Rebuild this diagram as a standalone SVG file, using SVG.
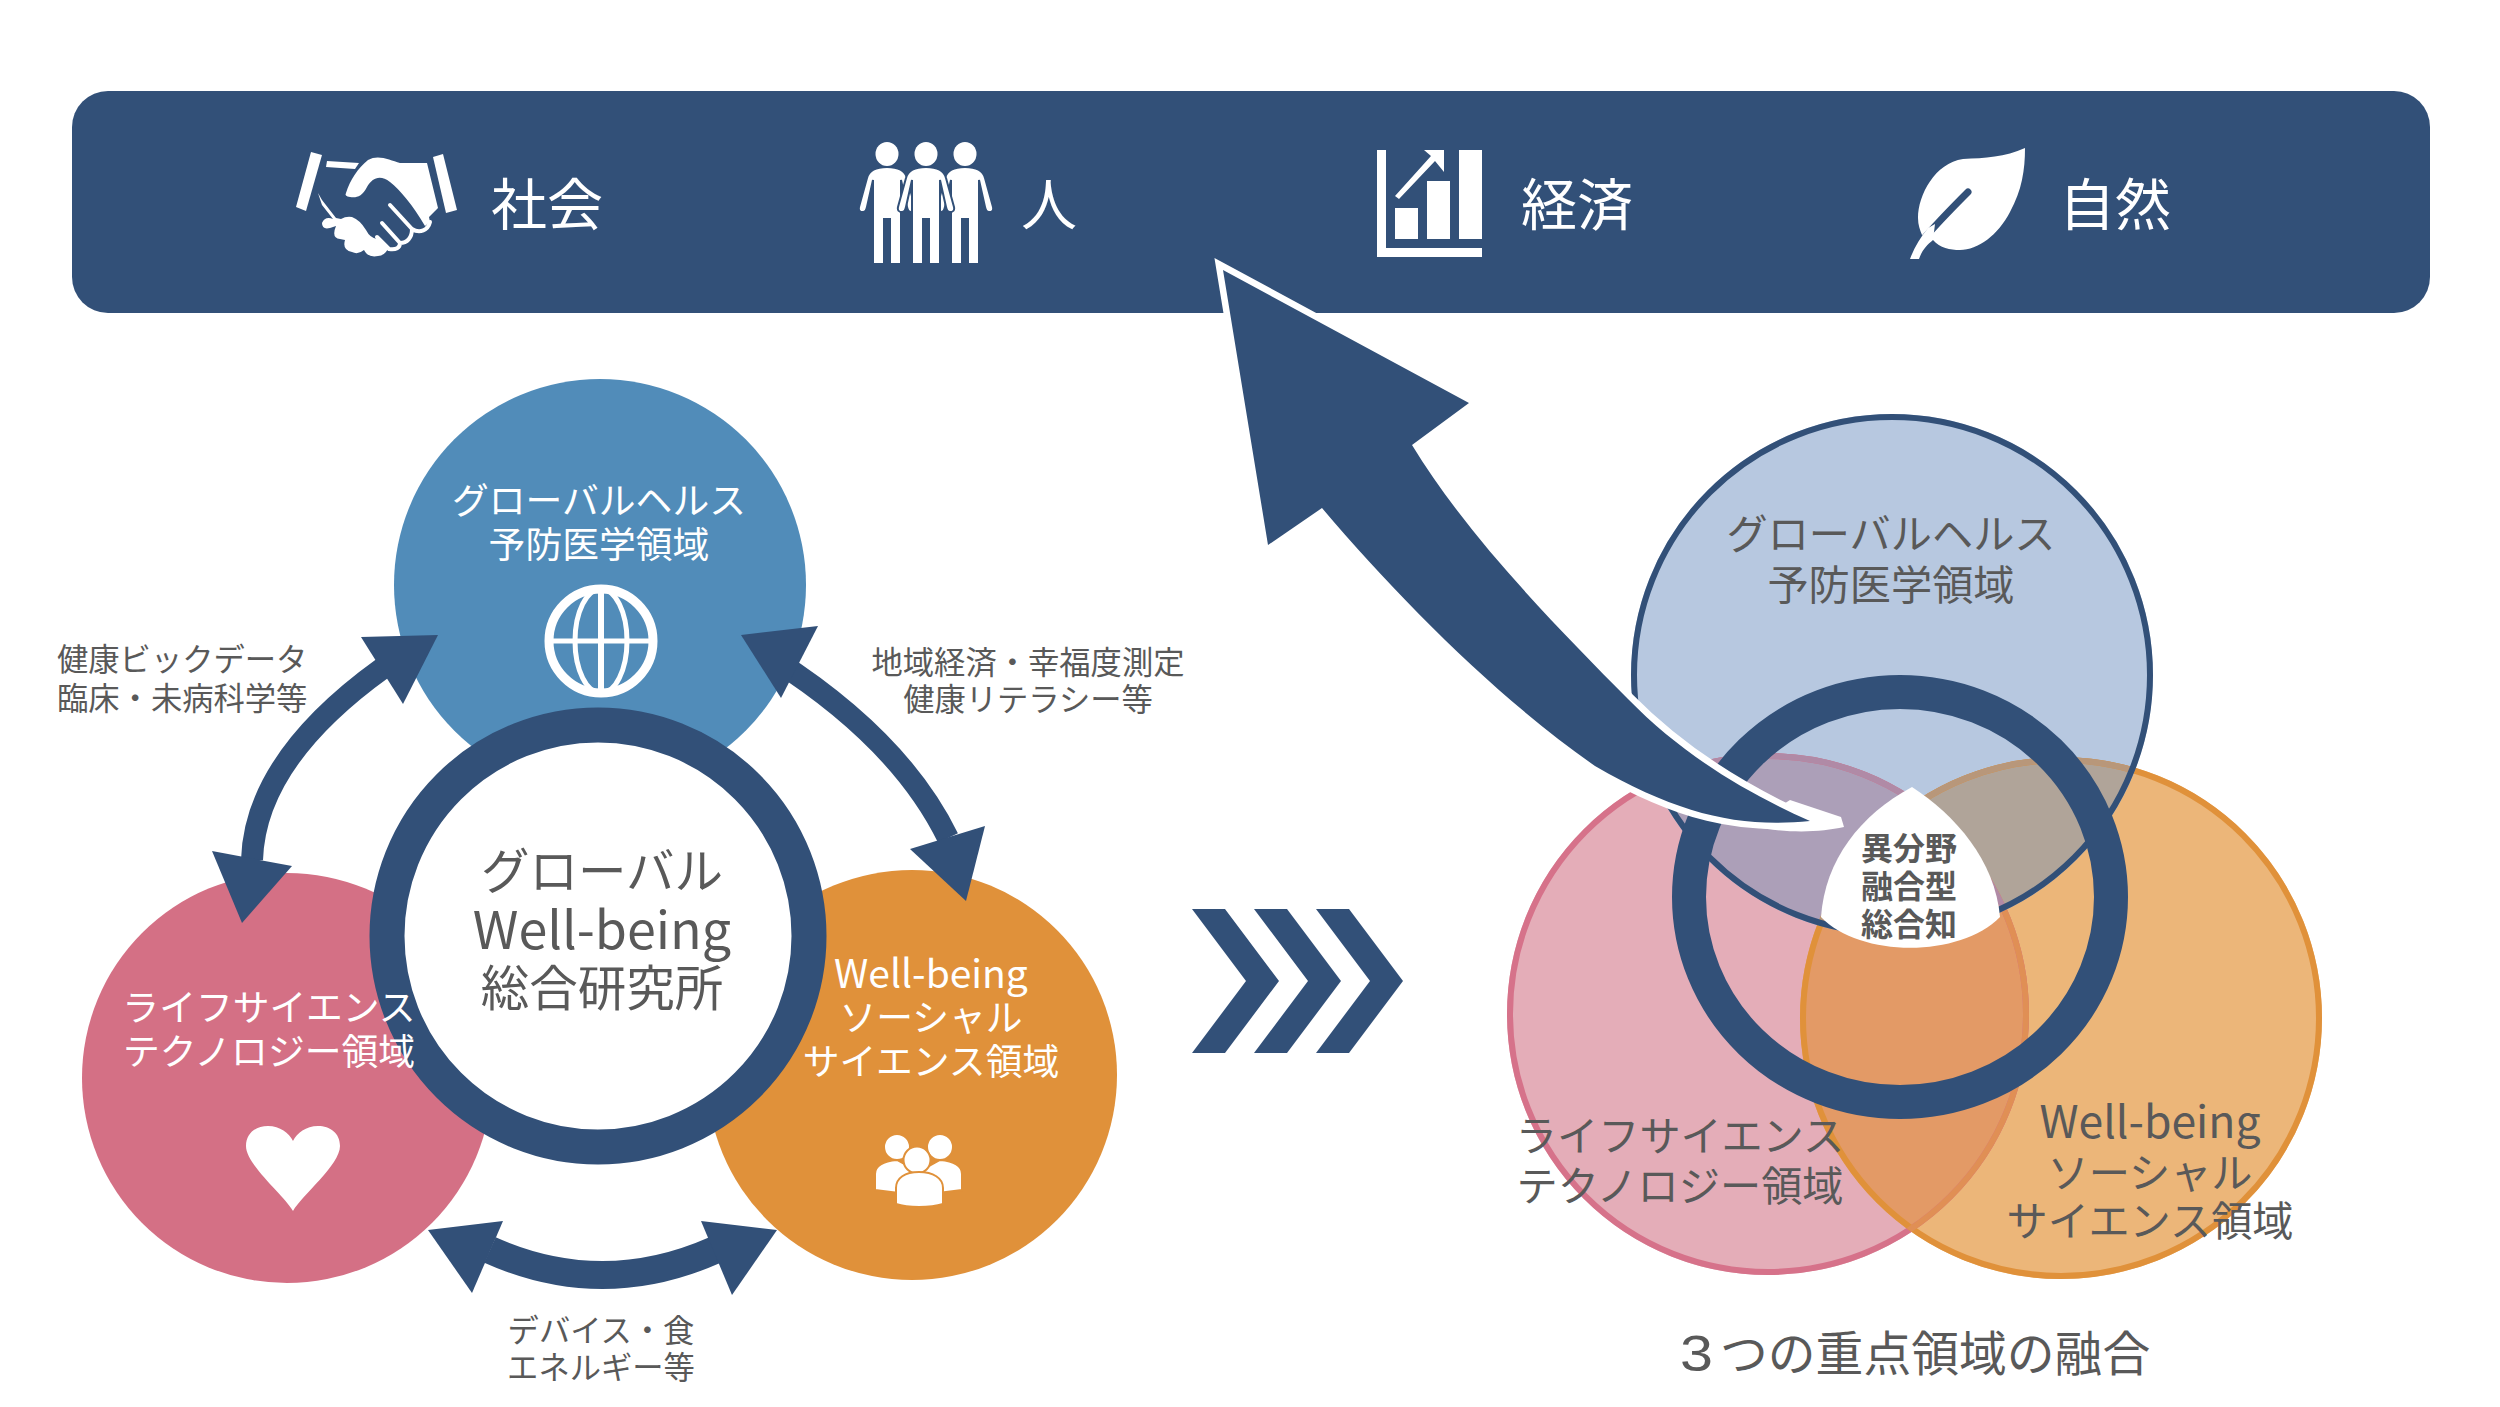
<svg xmlns="http://www.w3.org/2000/svg" width="2500" height="1407" viewBox="0 0 2500 1407">
<style>
text{font-family:"Noto Sans CJK JP","Liberation Sans",sans-serif;fill:#595959;text-anchor:middle}
.w{fill:#fff}
.t56{font-size:56px}
.t36{font-size:36.8px}
.t48{font-size:48.5px}
.t31{font-size:31.3px}
.t41{font-size:41.2px}
.navy{fill:#325078}
.link{fill:none;stroke:#325078}
</style>
<defs>
<clipPath id="cB"><circle cx="1892" cy="675" r="261"/></clipPath>
<clipPath id="cP"><circle cx="1768" cy="1014" r="261"/></clipPath>
<clipPath id="cO"><circle cx="2061" cy="1018" r="261"/></clipPath>
<path id="person" d="M0,167C-11,167-18,170-20,178L-28,207Q-29,212-24,212Q-21,212-20,207L-14,180V264H-3V219H3V264H14V180L20,207Q21,212 24,212Q29,212 28,207L20,178C18,170 11,167 0,167Z"/>
</defs>
<rect width="2500" height="1407" fill="#fff"/>

<g id="impact-bar">
<rect x="72" y="91" width="2358" height="222" rx="36" class="navy"/>
<g id="handshake" fill="#fff">
<path d="M311,152L322,155L306,211L296,207Z"/>
<path d="M327,161L359,163L355,169L326,167Z"/>
<path d="M433,157L443,154L457,210L446,213Z"/>
<path d="M346,193C350,180 358,168 368,160C378,154 390,160 400,163L427,163L438,208L429,217L430,222L425,226C413,205 400,190 390,182C380,174 372,178 367,187C362,197 356,198 350,197Q344,196 346,193Z"/>
<path d="M318,193L322,205L333,219Q325,216 322,223Q322,230 330,228L336,226Q331,238 340,239L345,240Q342,250 352,252Q358,255 364,250Q368,258 378,256Q384,256 388,249L377,239Q370,238 366,230Q360,220 352,217Q346,216 341,219L336,218L322,200Z"/>
<path fill="none" stroke="#fff" stroke-width="4" stroke-linecap="round" d="M390,205L412,229M412,229C420,234 428,230 430,222M382,223L400,243M400,243C407,243 412,238 412,229M377,237L389,249M389,249C396,250 400,248 400,243"/>
</g>
<text class="w t56" x="547" y="225">社会</text>
<g id="people" fill="#fff" stroke="#325078" stroke-width="2">
<ellipse cx="887" cy="154" rx="11.5" ry="12" stroke="none"/>
<ellipse cx="926" cy="154" rx="11.5" ry="12" stroke="none"/>
<ellipse cx="965" cy="154" rx="11.5" ry="12" stroke="none"/>
<use href="#person" x="887"/>
<use href="#person" x="965"/>
<use href="#person" x="926"/>
</g>
<text class="w t56" x="1049" y="225">人</text>
<g id="chart" fill="#fff">
<path d="M1377,150H1386V248H1482V257H1377Z"/>
<rect x="1395" y="208" width="23" height="31"/>
<rect x="1427" y="181" width="23" height="58"/>
<rect x="1459" y="150" width="23" height="89"/>
<path d="M1395,196L1399,199L1435,161L1444,172V150H1424L1431,156Z"/>
</g>
<text class="w t56" x="1577" y="225">経済</text>
<g id="leaf">
<path fill="#fff" d="M2025,148C2005,157 1985,158 1963,159C1935,163 1918,195 1918,218C1918,225 1920,230 1922,235L1933,240C1940,248 1950,250 1960,250C1978,250 1998,235 2010,212C2022,190 2025,170 2025,148Z"/>
<path fill="none" stroke="#325078" stroke-width="7" stroke-linecap="round" d="M1968,192C1952,208 1938,222 1920,243"/>
<path fill="#fff" d="M1910,259H1919C1922,250 1927,245 1933,240L1935,224L1928,228C1920,238 1914,248 1910,259Z"/>
</g>
<text class="w t56" x="2115" y="225">自然</text>
</g>

<g id="node-global-health">
<circle cx="600" cy="585" r="206" fill="#518cb9"/>
<text class="w t36" x="599" y="514">グローバルヘルス</text>
<text class="w t36" x="599" y="558">予防医学領域</text>
<g fill="none" stroke="#fff">
<circle cx="601" cy="641" r="52" stroke-width="9"/>
<ellipse cx="601" cy="641" rx="26" ry="52" stroke-width="5"/>
<path d="M601,590V692" stroke-width="6"/>
<path d="M549,641H653" stroke-width="5"/>
</g>
</g>
<g id="node-life-science">
<circle cx="287" cy="1078" r="205" fill="#d47085"/>
<path fill="#fff" d="M293,1211C284,1195 246,1165 246,1146C246,1133 256,1126 268,1126C280,1126 289,1133 293,1141C297,1133 306,1126 318,1126C330,1126 340,1133 340,1146C340,1165 302,1195 293,1211Z"/>
</g>
<g id="node-social">
<circle cx="912" cy="1075" r="205" fill="#e0913a"/>
<g fill="#fff" stroke="#e0913a" stroke-width="2">
<circle cx="897" cy="1147" r="13"/>
<circle cx="940" cy="1147" r="13"/>
<path d="M875,1190V1174C875,1165 885,1161 897,1160L915,1170V1195Z"/>
<path d="M962,1190V1174C962,1165 952,1161 940,1160L922,1170V1195Z"/>
<circle cx="917" cy="1160" r="13.5"/>
<path d="M896,1204V1188C896,1178 905,1172 919,1172C933,1172 943,1178 943,1188V1204C930,1208 908,1208 896,1204Z"/>
</g>
</g>
<g id="node-center">
<circle cx="598" cy="936" r="211" fill="#fff" stroke="#325078" stroke-width="35"/>
<text class="t48" x="602" y="889">グローバル</text>
<text x="602" y="949" font-size="52">Well-being</text>
<text class="t48" x="602" y="1006">総合研究所</text>
</g>
<g id="labels-life-social">
<text class="w t36" x="269" y="1021">ライフサイエンス</text>
<text class="w t36" x="269" y="1065">テクノロジー領域</text>
<text class="w" x="931" y="988" font-size="39">Well-being</text>
<text class="w t36" x="931" y="1031">ソーシャル</text>
<text class="w t36" x="931" y="1075">サイエンス領域</text>
</g>

<g id="connectors">
<path class="link" stroke-width="22" d="M383,668Q255,760 252,860"/>
<path class="navy" d="M438,635L361,637L403,704Z"/>
<path class="navy" d="M242,923L212,851L292,866Z"/>
<path class="link" stroke-width="22" d="M775,660Q900,740 948,838"/>
<path class="navy" d="M741,635L818,626L781,698Z"/>
<path class="navy" d="M966,901L985,826L910,849Z"/>
<path class="link" stroke-width="28" d="M490,1250Q602,1300 715,1250"/>
<path class="navy" d="M428,1230L503,1221L472,1293Z"/>
<path class="navy" d="M777,1230L701,1221L732,1295Z"/>
<path id="chevrons" class="navy" d="M1192,909h33l54,72l-54,72h-33l54-72ZM1254,909h33l54,72l-54,72h-33l54-72ZM1316,909h33l54,72l-54,72h-33l54-72Z"/>
<text class="t31" style="text-anchor:start" x="57" y="671">健康ビックデータ</text>
<text class="t31" style="text-anchor:start" x="57" y="710">臨床・未病科学等</text>
<text class="t31" x="1028" y="674">地域経済・幸福度測定</text>
<text class="t31" x="1028" y="711">健康リテラシー等</text>
<text class="t31" x="601" y="1342">デバイス・食</text>
<text class="t31" x="601" y="1379">エネルギー等</text>
</g>

<g id="venn">
<circle cx="1768" cy="1014" r="261" fill="#e4adb8"/>
<circle cx="2061" cy="1018" r="261" fill="#ecb679"/>
<circle cx="1892" cy="675" r="261" fill="#b7c8e0"/>
<g clip-path="url(#cP)"><circle cx="2061" cy="1018" r="261" fill="#e39a66"/><circle cx="1892" cy="675" r="261" fill="#ac9fb8"/></g>
<g clip-path="url(#cO)"><circle cx="1892" cy="675" r="261" fill="#b0a499"/></g>
<circle cx="1768" cy="1014" r="258" fill="none" stroke="#d6728a" stroke-width="6"/>
<circle cx="2061" cy="1018" r="258" fill="none" stroke="#e0913a" stroke-width="6"/>
<g clip-path="url(#cO)"><circle cx="1768" cy="1014" r="258" fill="none" stroke="#e08f55" stroke-width="6"/></g>
<g clip-path="url(#cB)"><circle cx="1768" cy="1014" r="258" fill="none" stroke="#b08aa6" stroke-width="6"/><circle cx="2061" cy="1018" r="258" fill="none" stroke="#b8977a" stroke-width="6"/></g>
<circle cx="1892" cy="675" r="258" fill="none" stroke="#325078" stroke-width="6"/>
<path fill="#fff" d="M1912,787C1860,815 1825,860 1821,917C1860,958 1960,958 2000,917C1995,860 1955,815 1912,787Z"/>
<ellipse cx="1900" cy="897" rx="211" ry="205" fill="none" stroke="#325078" stroke-width="34"/>
<text class="t41" x="1891" y="549">グローバルヘルス</text>
<text class="t41" x="1891" y="600">予防医学領域</text>
<text class="t41" x="1680" y="1151">ライフサイエンス</text>
<text class="t41" x="1680" y="1201">テクノロジー領域</text>
<text x="2150" y="1138" font-size="44.5">Well-being</text>
<text class="t41" x="2150" y="1188">ソーシャル</text>
<text class="t41" x="2150" y="1236">サイエンス領域</text>
<g font-weight="700" font-size="32">
<text x="1909" y="860">異分野</text>
<text x="1909" y="898">融合型</text>
<text x="1909" y="936">総合知</text>
</g>
<text x="1680" y="1371" font-size="47.8" style="text-anchor:start"><tspan font-family="Liberation Sans" font-size="50" textLength="33" lengthAdjust="spacingAndGlyphs">3</tspan><tspan x="1720">つの重点領域の融合</tspan></text>
</g>

<g id="impact-arrow">
<path fill="#fff" d="M1750,826C1790,834 1820,832 1844,827L1841,817L1790,800Z"/>
<path class="navy" stroke="#fff" stroke-width="13" stroke-linejoin="miter" stroke-miterlimit="4" paint-order="stroke" d="M1223,270L1469,403L1412,445C1470,540 1560,630 1628,699C1680,752 1740,790 1810,821C1740,828 1680,815 1595,766C1500,700 1400,600 1322,508L1268,545Z"/>
</g>
</svg>
